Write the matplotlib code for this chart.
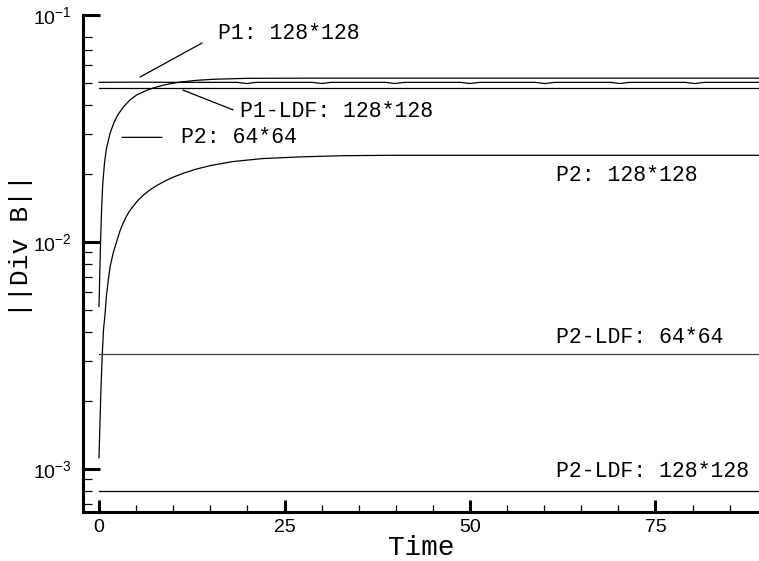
import matplotlib
matplotlib.use("Agg")
import matplotlib.pyplot as plt
from matplotlib.ticker import FixedLocator, NullFormatter, LogFormatterSciNotation

# ---------------- data ----------------
t_p1 = [0, 5, 10, 15, 18.6, 19.9, 21.2, 28.7, 30.0, 31.3, 38.6, 39.9, 41.2, 48.7, 50.0, 51.3,
        58.8, 60.1, 61.4, 68.9, 70.2, 71.5, 79.0, 80.3, 81.6, 89]
v_p1 = [0.0505, 0.0506, 0.0505, 0.0505, 0.0505, 0.0499, 0.0505, 0.0505, 0.0499, 0.0505,
        0.0505, 0.0499, 0.0505, 0.0505, 0.0499, 0.0505, 0.0505, 0.0499, 0.0505,
        0.0505, 0.0499, 0.0505, 0.0505, 0.0499, 0.0505, 0.0505]

t_p1ldf = [0, 89]
v_p1ldf = [0.0478, 0.0478]

t_p2_64 = [0, 0.1, 0.2, 0.35, 0.5, 0.75, 1.0, 1.5, 2.0, 2.5, 3.3, 4.2, 5.1, 6.4, 7.3,
           8.6, 9.6, 10.9, 13, 15.4, 20, 30, 40, 50, 60, 70, 80, 89]
v_p2_64 = [0.0052, 0.0072, 0.0098, 0.0140, 0.0180, 0.0225, 0.0258, 0.0302, 0.0335,
           0.0362, 0.0394, 0.0423, 0.0445, 0.0465, 0.0477, 0.0490, 0.0498, 0.0506,
           0.0515, 0.0521, 0.0526, 0.0527, 0.0527, 0.0527, 0.0527, 0.0527, 0.0527, 0.0527]

t_p2_128 = [0, 0.15, 0.27, 0.44, 0.6, 0.81, 1.0, 1.25, 1.5, 1.93, 2.4, 2.83, 3.2, 3.6,
            4.0, 4.4, 5.2, 6.0, 6.9, 8.0, 9.1, 10.0, 11.4, 13, 15, 18, 22, 27, 33, 40,
            50, 60, 70, 80, 89]
v_p2_128 = [0.00112, 0.0017, 0.0023, 0.0032, 0.0041, 0.0048, 0.0058, 0.0068, 0.0078,
            0.0090, 0.0101, 0.0112, 0.0120, 0.0128, 0.0135, 0.0141, 0.0152, 0.0161,
            0.0170, 0.0179, 0.0187, 0.0193, 0.0201, 0.0209, 0.0217, 0.0226, 0.0233,
            0.0237, 0.0240, 0.0241, 0.0241, 0.0241, 0.0241, 0.0241, 0.0241]

t_p2ldf_64 = [0, 89]
v_p2ldf_64 = [0.00320, 0.00320]

t_p2ldf_128 = [0, 89]
v_p2ldf_128 = [0.000802, 0.000802]

x_major = [0, 25, 50, 75]
x_minor = [5, 10, 15, 20, 30, 35, 40, 45, 55, 60, 65, 70, 80, 85]
y_major = [1e-3, 1e-2, 1e-1]
y_minor = [9e-4, 8e-4, 7e-4,
           2e-3, 3e-3, 4e-3, 5e-3, 6e-3, 7e-3, 8e-3, 9e-3,
           2e-2, 3e-2, 4e-2, 5e-2, 6e-2, 7e-2, 8e-2]

labels = ["P1: 128*128", "P1-LDF: 128*128", "P2: 64*64", "P2: 128*128",
          "P2-LDF: 64*64", "P2-LDF: 128*128"]

# ---------------- style ----------------
plt.rcParams["font.family"] = ["Liberation Sans", "DejaVu Sans"]
plt.rcParams["mathtext.fontset"] = "custom"
plt.rcParams["mathtext.rm"] = "Liberation Sans"
plt.rcParams["mathtext.it"] = "Liberation Sans:italic"
plt.rcParams["mathtext.bf"] = "Liberation Sans:bold"
mono = ["Liberation Mono", "DejaVu Sans Mono"]

fig = plt.figure(figsize=(7.59, 5.61), dpi=100)
ax = fig.add_axes([83 / 759, 49 / 561, 676 / 759, 497 / 561])

lw = 0.9
ax.plot(t_p1, v_p1, color="black", lw=lw)
ax.plot(t_p1ldf, v_p1ldf, color="black", lw=lw)
ax.plot(t_p2_64, v_p2_64, color="black", lw=lw)
ax.plot(t_p2_128, v_p2_128, color="black", lw=lw)
ax.plot(t_p2ldf_64, v_p2ldf_64, color="#444444", lw=lw)
ax.plot(t_p2ldf_128, v_p2ldf_128, color="black", lw=lw)

ax.set_yscale("log")
ax.set_xlim(-2.16, 88.95)
ax.set_ylim(6.46e-4, 0.1)

for s in ["top", "right"]:
    ax.spines[s].set_visible(False)
for s in ["left", "bottom"]:
    ax.spines[s].set_linewidth(2.2)

ax.xaxis.set_major_locator(FixedLocator(x_major))
ax.xaxis.set_minor_locator(FixedLocator(x_minor))
ax.yaxis.set_major_locator(FixedLocator(y_major))
ax.yaxis.set_minor_locator(FixedLocator(y_minor))
ax.yaxis.set_major_formatter(LogFormatterSciNotation())
ax.yaxis.set_minor_formatter(NullFormatter())

ax.tick_params(axis="y", which="major", direction="in", length=12, width=2.2,
               labelsize=14, pad=8)
ax.tick_params(axis="y", which="minor", direction="in", length=6.5, width=0.9)
ax.tick_params(axis="x", which="major", direction="in", length=9, width=2.2,
               labelsize=14, pad=5)
ax.tick_params(axis="x", which="minor", direction="in", length=5, width=0.9)

ax.set_xlabel("Time", family=mono, fontsize=20, va="center")
ax.xaxis.set_label_coords(0.5, -0.0724)
ax.set_ylabel("||Div B||", family=mono, fontsize=19, va="center")
ax.yaxis.set_label_coords(-0.092, 0.537)

fs = 15.5
line_kw = dict(arrowstyle="-", color="black", lw=0.9, shrinkA=0, shrinkB=0)

# P1 label with pointer
ax.annotate("", xy=(5.53, 0.0533), xytext=(13.9, 0.0753), arrowprops=line_kw)
ax.text(16.0, 0.0825, labels[0], family=mono, fontsize=fs, ha="left", va="center")
# P1-LDF label with pointer
ax.annotate("", xy=(11.3, 0.0467), xytext=(18.06, 0.0382), arrowprops=line_kw)
ax.text(19.0, 0.0374, labels[1], family=mono, fontsize=fs, ha="left", va="center")
# P2 64 label with pointer
ax.annotate("", xy=(3.10, 0.0289), xytext=(8.49, 0.0289), arrowprops=line_kw)
ax.text(11.05, 0.0289, labels[2], family=mono, fontsize=fs, ha="left", va="center")
# right-hand labels
ax.text(61.55, 0.0197, labels[3], family=mono, fontsize=fs, ha="left", va="center")
ax.text(61.55, 0.00378, labels[4], family=mono, fontsize=fs, ha="left", va="center")
ax.text(61.55, 0.000973, labels[5], family=mono, fontsize=fs, ha="left", va="center")

fig.savefig("out.png", dpi=100)
